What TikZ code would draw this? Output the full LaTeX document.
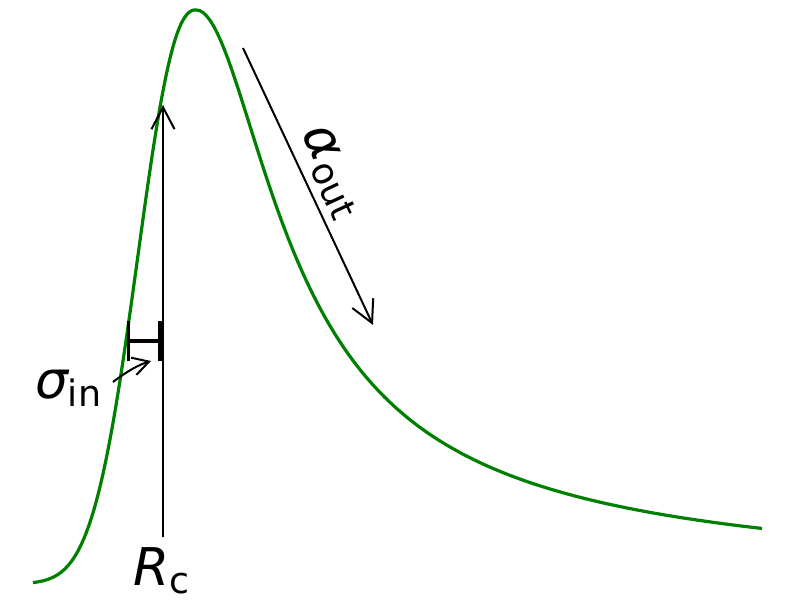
\documentclass[tikz,border=0pt]{standalone}
\usepackage{fontspec}
\setmainfont{DejaVu Sans}
\usetikzlibrary{arrows.meta}
\definecolor{mplgreen}{rgb}{0,0.5,0}
\newcommand{\mylbl}[2]{{\fontsize{52}{52}\selectfont\itshape #1}\raisebox{-8pt}{\fontsize{36.4}{36.4}\selectfont #2}}
\tikzset{
  curve/.style={draw=mplgreen, line width=3.2pt, line join=round},
  arr/.style={line width=2pt, -{Straight Barb[length=22pt,width=23pt,line width=2pt]}},
  smallarr/.style={line width=2pt, -{Straight Barb[length=16pt,width=18pt,line width=2pt]}},
  hbar/.style={line width=3.5pt},
  lbl/.style={inner sep=0pt, outer sep=0pt}
}
\begin{document}
\begin{tikzpicture}[x=1pt,y=-1pt]
\useasboundingbox (0,0) rectangle (792,604);
% profile curve: generalized Gaussian rise, Plummer-like decay
\draw[curve] plot[domain=33:195.5, samples=120] (\x, {584-574*exp(-pow((196-\x)/74.8,2.3))})
  -- plot[domain=196:762, samples=160] (\x, {584-574*pow(1+((\x-196)/79)^2,-0.59)});
% R_c arrow
\coordinate (rcbot) at (163,537);
\coordinate (rctop) at (163,105);
\draw[arr] (rcbot) -- (rctop);
\node[lbl, anchor=base west] (rc) at (133,585) {\mylbl{R}{c}};
% sigma_in bar
\coordinate (hl) at (128.5,341);
\coordinate (hr) at (160,341);
\coordinate (hlt) at (128.5,321);
\coordinate (hlb) at (128.5,361);
\coordinate (hrt) at (160,321);
\coordinate (hrb) at (160,361);
\draw[hbar] (hl) -- (hr);
\draw[hbar] (hlt) -- (hlb);
\draw[hbar] (hrt) -- (hrb);
\node[lbl, anchor=base west] (sig) at (35,398) {\mylbl{σ}{in}};
\coordinate (sigs) at (113,382);
\coordinate (sige) at (151,361);
\draw[smallarr] (sigs) .. controls (126,372) and (138,365) .. (sige);
% alpha_out arrow
\coordinate (as) at (243,48);
\coordinate (ae) at (373,325);
\draw[arr] (as) -- (ae);
\node[lbl, rotate=-65] (alpha) at (331,172) {\mylbl{α}{out}};
\end{tikzpicture}
\end{document}
